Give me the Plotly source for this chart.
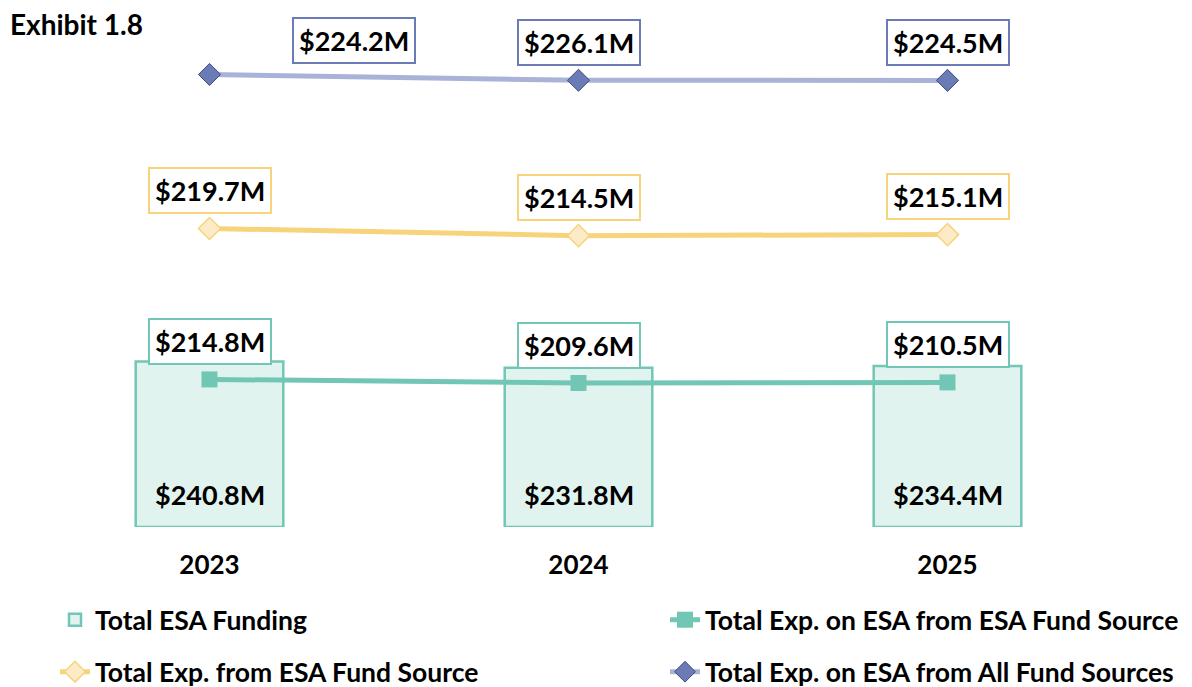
import numpy as np
import plotly.graph_objects as go

years = ["2023", "2024", "2025"]
funding = [240.8, 231.8, 234.4]
exp_esa_from_esa = [214.8, 209.6, 210.5]
exp_from_esa = [219.7, 214.5, 215.1]
exp_esa_all = [224.2, 226.1, 224.5]

TEAL = "#72C6B5"
TEAL_FILL = "#E1F3EF"
YEL = "#F7D47C"
YEL_FILL = "#FDEBC8"
PUR = "#A8B3D7"
PUR_M = "#6A7BB6"
PUR_EDGE = "#3E4A7C"
FONT = "Lato"

def money(v):
    return f"${v:.1f}M"

fig = go.Figure()
fig.add_trace(go.Bar(x=years, y=funding, name="Total ESA Funding", width=0.4,
                     marker=dict(color=TEAL_FILL, line=dict(color=TEAL, width=2.5)),
                     legend="legend"))
fig.add_trace(go.Scatter(x=years, y=exp_esa_from_esa, name="Total Exp. on ESA from ESA Fund Source",
                         stackgroup="s", fill="none", mode="lines+markers",
                         line=dict(color=TEAL, width=5, shape="spline", smoothing=0.6),
                         marker=dict(symbol="square", size=16, color=TEAL, line=dict(width=0)),
                         legend="legend2"))
fig.add_trace(go.Scatter(x=years, y=exp_from_esa, name="Total Exp. from ESA Fund Source",
                         stackgroup="s", fill="none", mode="lines+markers",
                         line=dict(color=YEL, width=5, shape="spline", smoothing=0.6),
                         marker=dict(symbol="diamond", size=17, color=YEL_FILL, line=dict(color=YEL, width=1.5)),
                         legend="legend3"))
fig.add_trace(go.Scatter(x=years, y=exp_esa_all, name="Total Exp. on ESA from All Fund Sources",
                         stackgroup="s", fill="none", mode="lines+markers",
                         line=dict(color=PUR, width=5, shape="spline", smoothing=0.6),
                         marker=dict(symbol="diamond", size=17, color=PUR_M, line=dict(color=PUR_EDGE, width=1)),
                         legend="legend4"))

lab_font = dict(family=FONT, size=27, color="black", weight="bold")

# bar labels (category axis: annotation x is the category index)
for i, v in enumerate(funding):
    fig.add_annotation(x=i, y=0, text=money(v), showarrow=False, yanchor="bottom",
                       yshift=14, font=lab_font)

# line labels (positioned over stacked values)
stacked = np.cumsum(np.array([exp_esa_from_esa, exp_from_esa, exp_esa_all]), axis=0)
series = [(exp_esa_from_esa, TEAL), (exp_from_esa, YEL), (exp_esa_all, PUR_M)]
for k, (vals, col) in enumerate(series):
    for i, v in enumerate(vals):
        xshift = 144 if (k == 2 and i == 0) else 0
        yshift = 34 if (k == 2 and i == 0) else 38
        fig.add_annotation(x=i, y=float(stacked[k][i]), text=money(v), showarrow=False,
                           yanchor="middle", yshift=yshift, xshift=xshift,
                           font=lab_font, bgcolor="white", bordercolor=col,
                           borderwidth=2, borderpad=5)

fig.add_annotation(text="Exhibit 1.8", xref="paper", yref="paper", x=0, y=(519 - 16) / 497,
                   xanchor="left", yanchor="middle", showarrow=False, xshift=-17,
                   font=dict(family=FONT, size=28, color="black", weight="bold"))

leg_common = dict(orientation="h", xref="container", yref="container", xanchor="left",
                  yanchor="middle",
                  font=dict(family=FONT, size=26.5, color="black", weight="bold"),
                  bgcolor="rgba(0,0,0,0)", itemclick=False)

W, H = 1192, 687
fig.update_layout(
    width=W, height=H,
    margin=dict(l=17, r=68, t=22, b=168, autoexpand=False),
    plot_bgcolor="white", paper_bgcolor="white",
    barmode="overlay",
    showlegend=True,
    legend=dict(x=47/W, y=1 - 612/H, **leg_common),
    legend2=dict(x=657/W, y=1 - 612/H, **leg_common),
    legend3=dict(x=47/W, y=1 - 664/H, **leg_common),
    legend4=dict(x=657/W, y=1 - 664/H, **leg_common),
    xaxis=dict(type="category", showgrid=False, zeroline=False, showline=False, ticks="outside",
               ticklen=15, tickcolor="rgba(0,0,0,0)", range=[-0.5, 2.5],
               tickfont=dict(family=FONT, size=26, color="black", weight="bold")),
    yaxis=dict(visible=False, range=[0, 497/0.687]),
)

fig.write_html("out.html")
